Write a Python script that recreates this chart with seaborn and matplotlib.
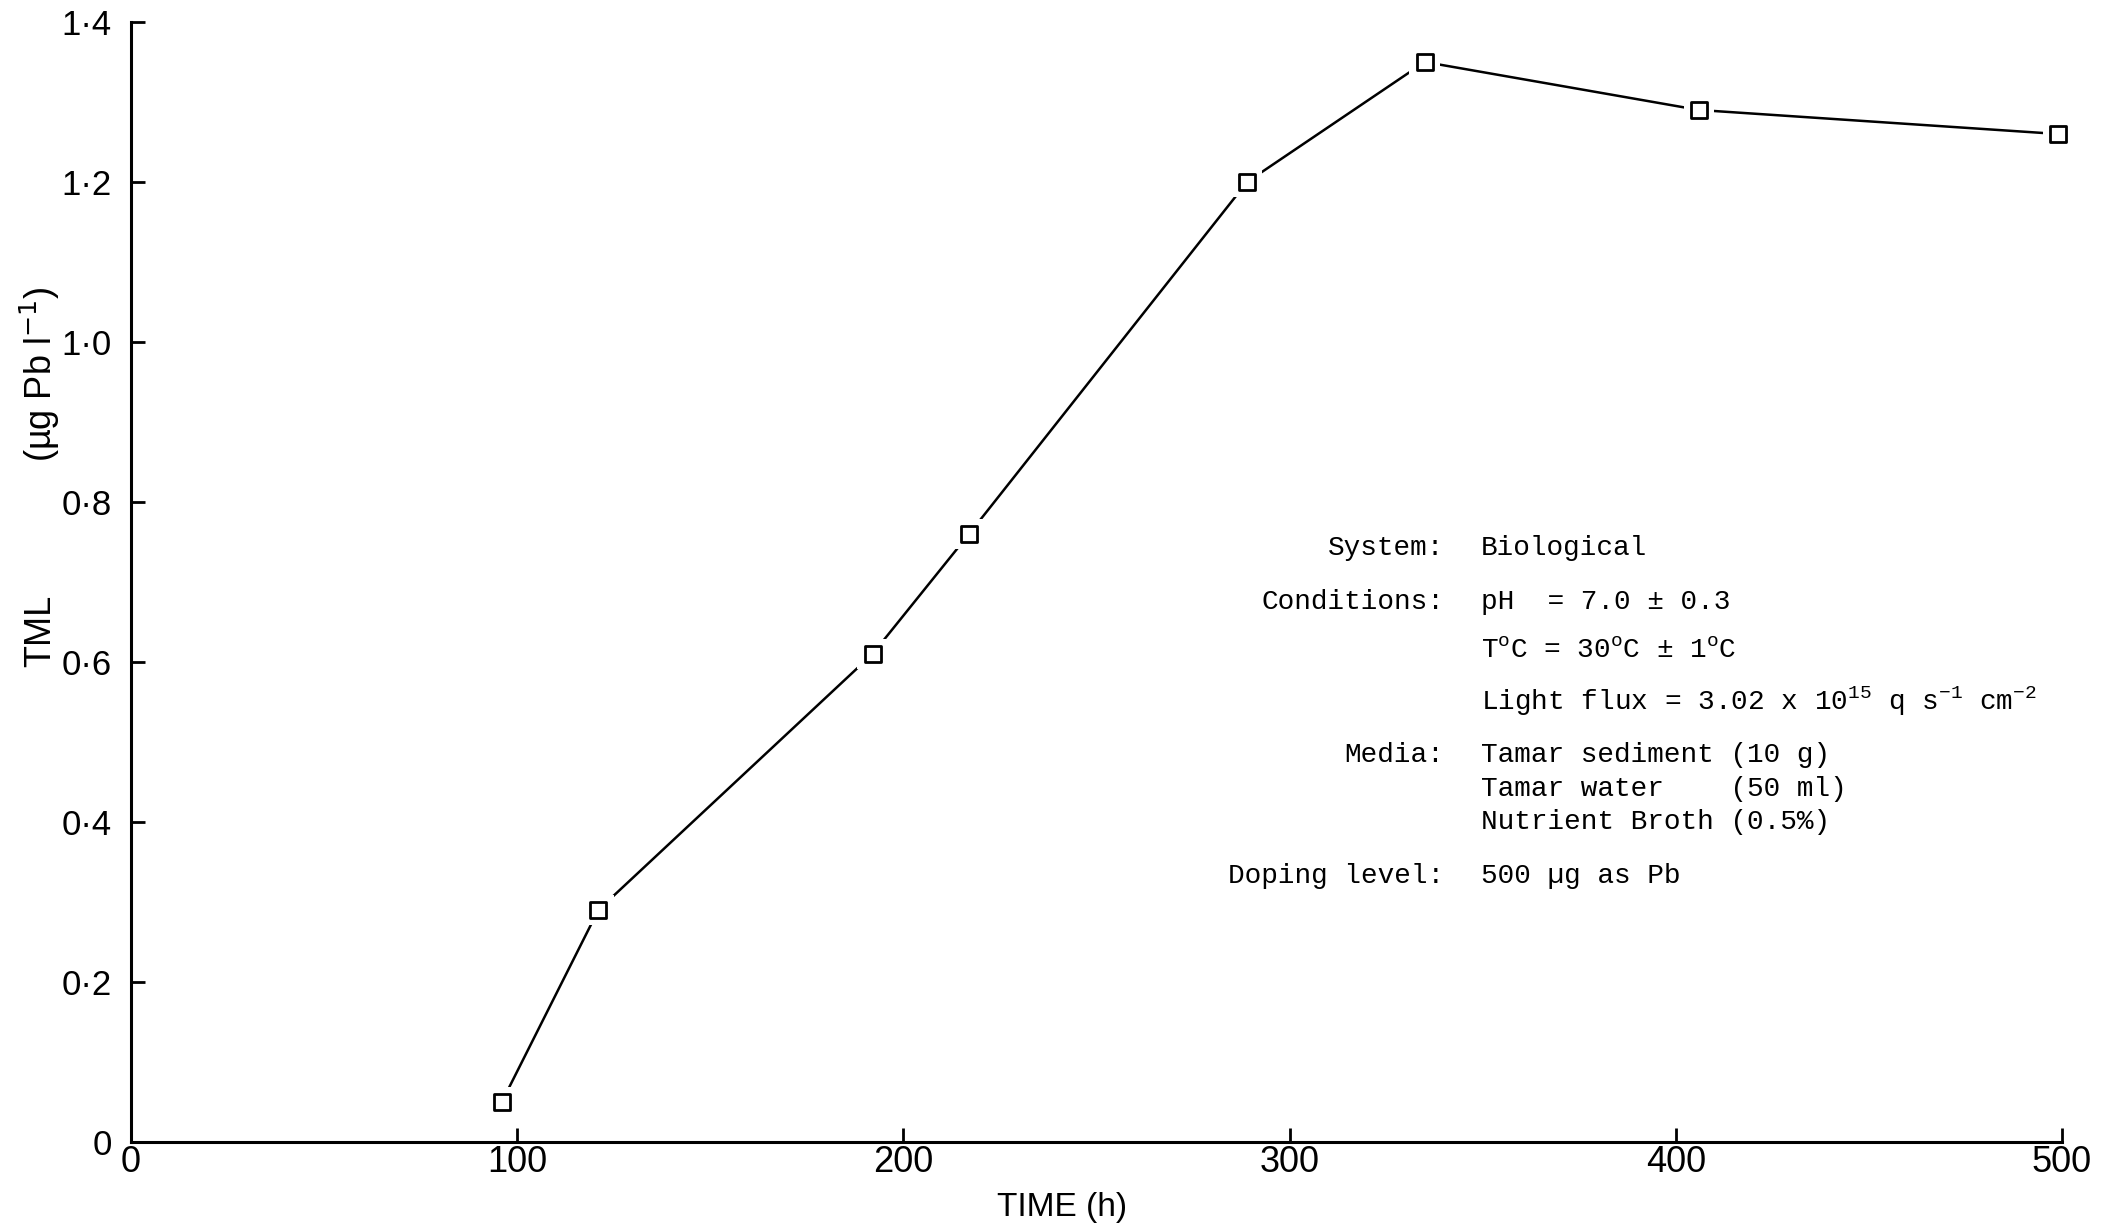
import matplotlib
matplotlib.use("Agg")
import matplotlib.pyplot as plt
import seaborn as sns
import pandas as pd

# TML concentration measured over incubation time
time_h = [96, 121, 192, 217, 289, 335, 406, 499]
tml = [0.05, 0.29, 0.61, 0.76, 1.20, 1.35, 1.29, 1.26]

x_ticks = [0, 100, 200, 300, 400, 500]
x_tick_labels = ["0", "100", "200", "300", "400", "500"]
y_ticks = [0, 0.2, 0.4, 0.6, 0.8, 1.0, 1.2, 1.4]
y_tick_labels = ["0", "0·2", "0·4", "0·6", "0·8", "1·0", "1·2", "1·4"]

# Experimental conditions block: (label, value lines)
cond_labels = ["System:", "Conditions:", "", "", "Media:", "", "", "Doping level:"]
cond_values = [
    "Biological",
    "pH  = 7.0 ± 0.3",
    "T$^{\\rm o}$C = 30$^{\\rm o}$C ± 1$^{\\rm o}$C",
    "Light flux = 3.02 x 10$^{15}$ q s$^{-1}$ cm$^{-2}$",
    "Tamar sediment (10 g)",
    "Tamar water    (50 ml)",
    "Nutrient Broth (0.5%)",
    "500 µg as Pb",
]
cond_rows_y = [0.742, 0.675, 0.6145, 0.551, 0.4835, 0.4415, 0.3995, 0.332]

df = pd.DataFrame({"time": time_h, "tml": tml})

sns.set_theme(style="ticks")
plt.rcParams["font.family"] = ["Liberation Sans", "DejaVu Sans"]
plt.rcParams["mathtext.fontset"] = "custom"
plt.rcParams["mathtext.rm"] = "Liberation Mono"
plt.rcParams["mathtext.it"] = "Liberation Mono"
plt.rcParams["mathtext.bf"] = "Liberation Mono"

fig = plt.figure(figsize=(21.07, 12.28), dpi=100)
ax = fig.add_axes([0.0622, 0.0700, 0.9786 - 0.0622, 0.9821 - 0.0700])

sns.lineplot(data=df, x="time", y="tml", ax=ax, color="black", linewidth=1.8,
             zorder=2, legend=False)
# white halo so the line stops short of each marker
sns.scatterplot(data=df, x="time", y="tml", ax=ax, marker="s", s=22 ** 2,
                color="white", edgecolor="none", linewidth=0, zorder=3,
                legend=False, clip_on=False)
sns.scatterplot(data=df, x="time", y="tml", ax=ax, marker="s", s=11 ** 2,
                facecolor="white", edgecolor="black", linewidth=2.0, zorder=4,
                legend=False, clip_on=False)

ax.set_xlim(0, 500)
ax.set_ylim(0, 1.4)
ax.set_xticks(x_ticks)
ax.set_xticklabels(x_tick_labels)
ax.set_yticks(y_ticks)
ax.set_yticklabels(y_tick_labels)
ax.tick_params(axis="both", direction="in", length=10, width=2, color="black",
               labelsize=26, labelcolor="black")
ax.tick_params(axis="x", pad=2)
ax.tick_params(axis="y", pad=14, labelsize=25)

sns.despine(ax=ax)
for side in ("left", "bottom"):
    ax.spines[side].set_linewidth(2.2)
    ax.spines[side].set_color("black")

ax.set_xlabel("TIME (h)", fontsize=24, color="black")
ax.xaxis.set_label_coords(0.482, -0.045)
ax.set_ylabel("")
ax.text(-0.047, 0.456, "TML", transform=ax.transAxes, rotation=90,
        ha="center", va="center", fontsize=26, color="black")
ax.text(-0.047, 0.686, "(µg Pb l$^{-1}$)", transform=ax.transAxes, rotation=90,
        ha="center", va="center", fontsize=26, color="black",
        math_fontfamily="dejavusans")

mono = ["Liberation Mono", "DejaVu Sans Mono"]
for lab, val, yy in zip(cond_labels, cond_values, cond_rows_y):
    if lab:
        ax.text(340.1, yy, lab, ha="right", va="center", fontsize=20,
                family=mono, color="black")
    ax.text(349.5, yy, val, ha="left", va="center", fontsize=20,
            family=mono, color="black")

fig.savefig("out.png", dpi=100, facecolor="white")
